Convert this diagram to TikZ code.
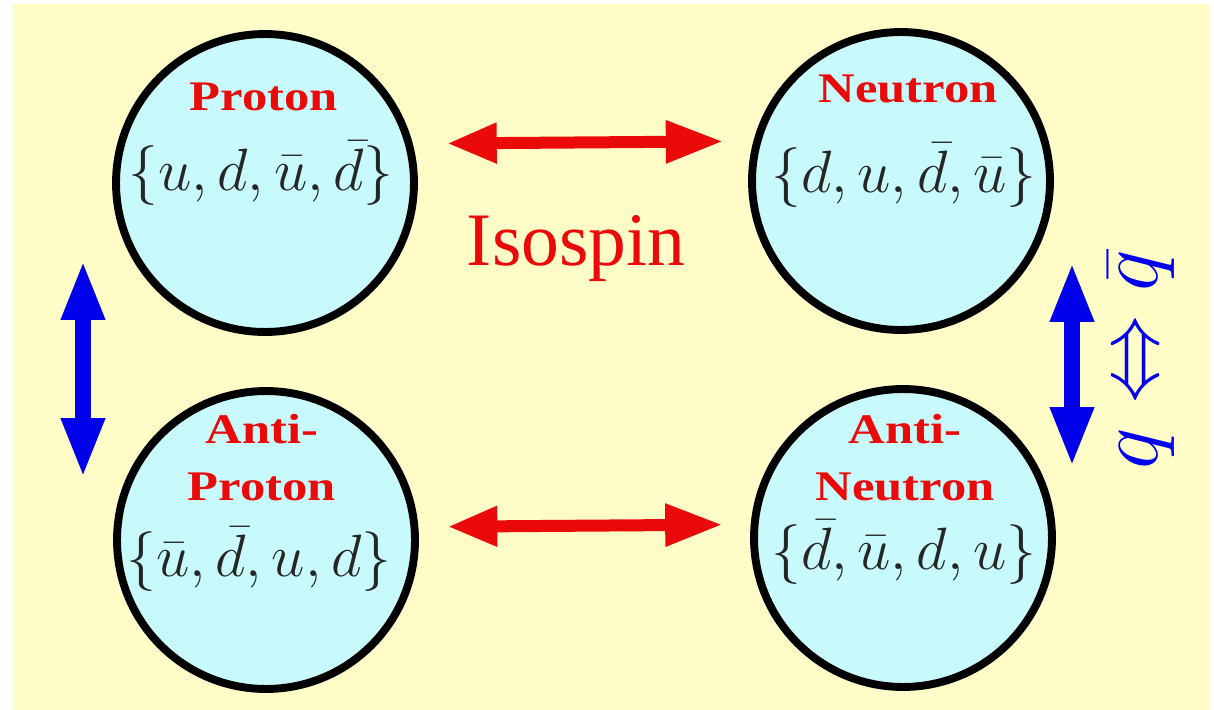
\RequirePackage{fix-cm}
\documentclass[tikz,border=0pt]{standalone}
\usepackage{fontspec}
\setmainfont{Liberation Serif}
\newfontfamily\namefont[FakeStretch=1.2]{Liberation Serif}
\usetikzlibrary{arrows.meta,calc}

\definecolor{bgyellow}{RGB}{255,252,200}
\definecolor{ballcyan}{RGB}{200,250,252}
\definecolor{isored}{RGB}{235,10,10}
\definecolor{conjblue}{RGB}{0,0,235}

\begin{document}
\begin{tikzpicture}[x=0.02cm, y=-0.02cm,
    nucleon/.style={circle, draw=black, line width=4.5pt, fill=ballcyan, minimum size=5.96cm, inner sep=0pt},
    partname/.style={text=isored, font=\fontsize{24}{32}\namefont\bfseries, align=center, inner sep=0pt, anchor=base},
    quarks/.style={text=black!85, font=\fontsize{34}{40}\selectfont, inner sep=0pt, anchor=base},
    isoline/.style={draw=isored, line width=0.24cm, {Triangle[length=1.0cm,width=0.75cm]}-{Triangle[length=1.15cm,width=0.8cm]}},
    conjline/.style={draw=conjblue, line width=0.32cm, {Triangle[length=1.2cm,width=0.8cm]}-{Triangle[length=1.2cm,width=0.8cm]}}
  ]
  % frame
  \useasboundingbox (0,0) rectangle (1214,710);
  \fill[bgyellow] (13,4) rectangle (1210,710);

  % the four nucleons
  \node[nucleon] (p)  at (265,183) {};
  \node[nucleon] (n)  at (901,181) {};
  \node[nucleon] (ap) at (266,540) {};
  \node[nucleon] (an) at (903,538) {};

  \node[partname] (pname)  at (264,110) {Proton};
  \node[partname] (nname)  at (908,102) {Neutron};
  \node[partname] (apname) at (262,500) {Anti-\\Proton};
  \node[partname] (anname) at (905,500) {Anti-\\Neutron};

  \node[quarks] (pq)  at (261,190) {$\{u,d,\bar{u},\bar{d}\}$};
  \node[quarks] (nq)  at (904,192) {$\{d,u,\bar{d},\bar{u}\}$};
  \node[quarks] (apq) at (259,576) {$\{\bar{u},\bar{d},u,d\}$};
  \node[quarks] (anq) at (904,569) {$\{\bar{d},\bar{u},d,u\}$};

  % isospin arrows
  \draw[isoline] ($(p.15)+(34,0)$) -- ($(n.165)+(-30,0)$);
  \draw[isoline] ($(ap.5)+(29,0)$) -- ($(an.175)+(-28,0)$);
  \node[text=isored, font=\fontsize{43}{50}\selectfont, anchor=base] (iso) at (576,265) {Isospin};

  % conjugation arrows
  \coordinate (lt) at (83,260);
  \coordinate (lb) at (83,478);
  \coordinate (rt) at (1072,262);
  \coordinate (rb) at (1072,467);
  \draw[conjline] (lt) -- (lb);
  \draw[conjline] (rt) -- (rb);
  \node[text=conjblue, font=\fontsize{50}{60}\selectfont, rotate=90, anchor=base] (qq) at (1157,360) {$q\Leftrightarrow\bar{q}$};
\end{tikzpicture}
\end{document}
